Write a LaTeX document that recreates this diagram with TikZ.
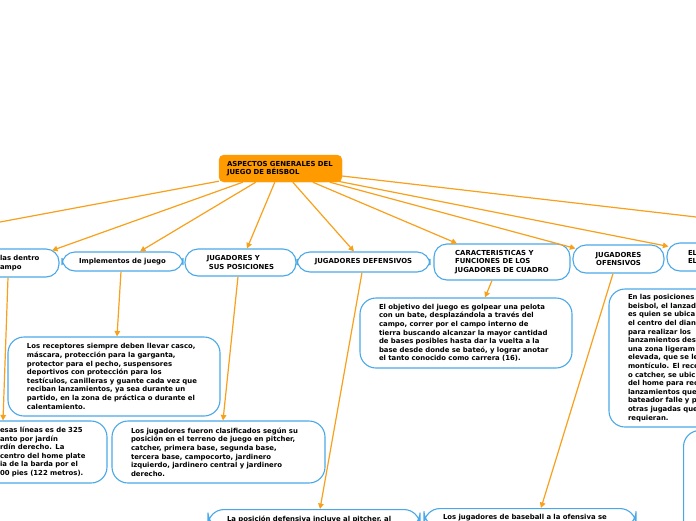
\documentclass[tikz,border=0pt]{standalone}
\usepackage{fontspec}
\setmainfont{DejaVu Sans}
\usetikzlibrary{arrows.meta}
\definecolor{rootorange}{HTML}{FF9A00}
\definecolor{linkorange}{HTML}{F9A01B}
\definecolor{boxblue}{HTML}{4AA8E8}
\tikzset{
  every node/.style={font=\fontsize{6.9}{8.6}\selectfont\bfseries},
  rootbox/.style={fill=rootorange, draw=rootorange, rounded corners=5pt, align=left, text width=107pt, inner xsep=8pt, minimum width=123pt, minimum height=27pt},
  topic/.style={draw=boxblue, fill=white, line width=1.1pt, rounded corners=13pt},
  leaf/.style={draw=boxblue, fill=white, line width=1.1pt, rounded corners=16pt, align=left, inner xsep=19pt},
  link/.style={draw=linkorange, line width=1.2pt, -{Triangle[length=5.5pt,width=5.5pt]}}
}
\begin{document}
\begin{tikzpicture}[x=1pt,y=-1pt]
		\useasboundingbox[fill=white] (0,0) rectangle (696,520);
		%%%%% ROOT %%%%%
		\node[rootbox] (root) at (280.5,168.5) {ASPECTOS GENERALES DEL\\JUEGO DE BÉISBOL};
		
		%%%%% FIRST LEVEL %%%%%
		\node[topic, align=left, text width=40pt, inner xsep=19pt, minimum height=28pt] (campo) at (20,263) {las dentro\\ampo};
		\node[topic, minimum width=121pt, minimum height=19pt] (impl) at (122.5,261.5) {Implementos de juego};
		\node[topic, align=left, minimum width=111pt, minimum height=27pt] (posic) at (240.5,262.5) {JUGADORES Y\\\hspace{2pt}SUS POSICIONES};
		\node[topic, minimum width=133pt, minimum height=20pt] (defens) at (363.5,262) {JUGADORES DEFENSIVOS};
		\node[topic, align=left, minimum width=136pt, minimum height=36pt] (caract) at (502,262) {CARACTERISTICAS Y\\FUNCIONES DE LOS\\JUGADORES DE CUADRO};
		\node[topic, align=center, minimum width=91pt, minimum height=28pt] (ofens) at (618.5,259) {JUGADORES\\OFENSIVOS};
		\node[topic, align=left, text width=40pt, inner xsep=21pt, minimum height=28pt] (elnode) at (708,257) {EL\\EL};
		\coordinate (offl) at (-60,233.2);
		\coordinate (offr) at (760,224.4);
		
		%%%%% LEAVES %%%%%
		\node[leaf, text width=88pt, minimum height=62pt] (lineas) at (44,452) {esas líneas es de 325\\anto por jardín\\rdín derecho. La\\centro del home plate\\ia de la barda por el\\00 pies (122 metros).};
		\node[leaf, text width=174pt, minimum height=79pt] (recep) at (114,376.5) {Los receptores siempre deben llevar casco,\\máscara, protección para la garganta,\\protector para el pecho, suspensores\\deportivos con protección para los\\testículos, canilleras y guante cada vez que\\reciban lanzamientos, ya sea durante un\\partido, en la zona de práctica o durante el\\calentamiento.};
		\node[leaf, text width=175pt, minimum height=62pt] (clasif) at (218.5,452) {Los jugadores fueron clasificados según su\\posición en el terreno de juego en pitcher,\\catcher, primera base, segunda base,\\tercera base, campocorto, jardinero\\izquierdo, jardinero central y jardinero\\derecho.};
		\node[leaf, text width=174pt, minimum height=70pt] (objet) at (466,333) {El objetivo del juego es golpear una pelota\\con un bate, desplazándola a través del\\campo, correr por el campo interno de\\tierra buscando alcanzar la mayor cantidad\\de bases posibles hasta dar la vuelta a la\\base desde donde se bateó, y lograr anotar\\el tanto conocido como carrera (16).};
		\node[leaf, text width=120pt, minimum height=138pt] (lanzad) at (688,358) {En las posiciones\\beisbol, el lanzad\\es quien se ubica\\el centro del dian\\para realizar los\\lanzamientos des\\una zona ligeram\\elevada, que se le\\montículo. El rece\\o catcher, se ubic\\del home para rec\\lanzamientos que\\bateador falle y p\\otras jugadas que\\requieran.};
		\node[leaf, text width=174pt, anchor=north, inner ysep=6pt] (defpos) at (314,509) {La posición defensiva incluye al pitcher, al};
		\node[leaf, text width=174pt, anchor=north, inner ysep=6pt] (ofpos) at (530,508) {Los jugadores de baseball a la ofensiva se};
		\node[leaf, anchor=north west, minimum width=200pt, minimum height=150pt] (extra) at (683,430) {};
		
		%%%%% LINKS FROM ROOT %%%%%
		\draw[link] ([yshift=1pt]root.south west) -- (offl);
		\draw[link] ([xshift=24pt]root.south west) -- ([xshift=32pt,yshift=-2pt]campo.north);
		\draw[link] ([xshift=37pt]root.south west) -- ([xshift=17.5pt]impl.north);
		\draw[link] ([xshift=56pt]root.south west) -- ([xshift=6.5pt]posic.north);
		\draw[link] ([xshift=74pt]root.south west) -- ([xshift=-9.5pt]defens.north);
		\draw[link] ([xshift=94pt]root.south west) -- ([xshift=-45pt]caract.north);
		\draw[link] ([xshift=111pt]root.south west) -- ([xshift=3pt,yshift=-4pt]ofens.north west);
		\draw[link] ([xshift=119pt,yshift=1pt]root.south west) -- ([xshift=2pt,yshift=-4pt]elnode.north west);
		\draw[link] ([yshift=-7.5pt]root.east) -- (offr);
		
		%%%%% LINKS TO LEAVES %%%%%
		\draw[link] ([xshift=-12pt]campo.south) -- ([xshift=-41pt]lineas.north);
		\draw[link] ([xshift=-1.5pt]impl.south) -- ([xshift=3pt]recep.north);
		\draw[link] ([xshift=-2.5pt]posic.south) -- ([xshift=4.5pt]clasif.north);
		\draw[link] ([xshift=-1.5pt]defens.south) -- ([xshift=6pt]defpos.north);
		\draw[link] ([xshift=-10pt]caract.south) -- ([xshift=19pt]objet.north);
		\draw[link] ([xshift=-5.5pt]ofens.south) -- ([xshift=11pt]ofpos.north);
\end{tikzpicture}
\end{document}
